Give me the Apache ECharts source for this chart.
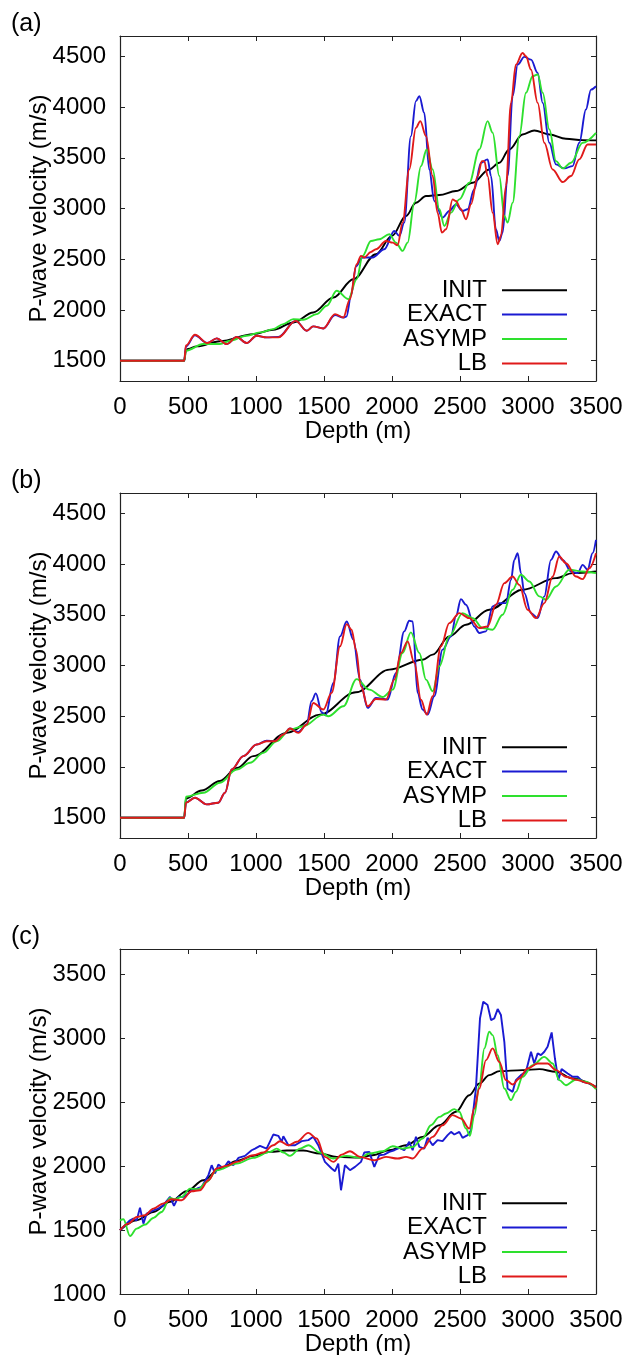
<!DOCTYPE html>
<html><head><meta charset="utf-8">
<script src="https://cdn.jsdelivr.net/npm/echarts@6/dist/echarts.min.js"></script>
<style>html,body{margin:0;padding:0;background:#fff}#c{width:629px;height:1355px}</style>
</head><body><div id="c"></div><script>
const seriesNames = ['INIT', 'EXACT', 'ASYMP', 'LB'];
const panelLabels = ['(a)', '(b)', '(c)'];
const xTicks = [0, 500, 1000, 1500, 2000, 2500, 3000, 3500];
const yTicksAB = [1500, 2000, 2500, 3000, 3500, 4000, 4500];
const yTicksC = [1000, 1500, 2000, 2500, 3000, 3500];
const xTitle = 'Depth (m)';
const yTitle = 'P-wave velocity (m/s)';

// ---- panel (a) ----
const aInit = [[0,1500],[472,1500],[485,1600],[500,1615],[564,1641],[735,1692],[980,1762],[1127,1805],[1275,1877],[1421,1975],[1569,2123],[1716,2303],[1882,2549],[2000,2730],[2103,2926],[2176,3057],[2250,3123],[2348,3133],[2470,3172],[2593,3254],[2715,3385],[2789,3451],[2862,3582],[2960,3730],[3046,3769],[3157,3730],[3279,3687],[3402,3674],[3500,3671]];
const aExact = [[0,1500],[472,1500],[485,1640],[551,1750],[642,1674],[711,1720],[784,1664],[858,1733],[931,1674],[1005,1746],[1078,1730],[1164,1735],[1292,1893],[1373,1795],[1421,1838],[1495,1818],[1581,1950],[1642,1926],[1665,1935],[1700,2150],[1735,2430],[1784,2517],[1857,2517],[1943,2598],[2017,2779],[2054,2730],[2090,2861],[2139,3713],[2176,4058],[2201,4107],[2237,3943],[2274,3385],[2311,3074],[2372,2910],[2421,2976],[2470,3041],[2519,2976],[2556,2992],[2605,3189],[2654,3451],[2703,3484],[2728,3320],[2764,2795],[2789,2680],[2813,2762],[2850,3320],[2887,4107],[2924,4418],[2973,4494],[3022,4467],[3071,4336],[3108,4041],[3157,3648],[3206,3435],[3267,3395],[3328,3418],[3377,3648],[3426,3976],[3463,4172],[3500,4205]];
const aAsymp = [[0,1500],[472,1500],[485,1600],[613,1664],[735,1664],[809,1697],[931,1746],[1029,1779],[1127,1811],[1201,1861],[1274,1910],[1348,1903],[1446,1959],[1520,2041],[1593,2189],[1679,2107],[1740,2303],[1784,2533],[1845,2680],[1906,2697],[1980,2746],[2029,2664],[2078,2582],[2115,2664],[2164,3057],[2213,3418],[2255,3582],[2299,3385],[2348,2992],[2385,2828],[2434,2959],[2495,3090],[2568,3254],[2642,3582],[2703,3861],[2740,3746],[2789,3320],[2826,2926],[2850,2861],[2887,3057],[2936,3713],[2985,4140],[3034,4304],[3071,4320],[3108,4140],[3157,3779],[3206,3467],[3255,3395],[3316,3451],[3402,3648],[3500,3746]];
const aLB = [[0,1500],[472,1500],[485,1650],[551,1756],[642,1674],[711,1720],[784,1664],[858,1733],[931,1674],[1005,1746],[1078,1730],[1164,1730],[1292,1893],[1373,1795],[1421,1838],[1495,1818],[1581,1959],[1642,1926],[1691,2107],[1740,2450],[1772,2533],[1796,2517],[1845,2572],[1882,2598],[1956,2680],[2005,2664],[2041,2638],[2078,2861],[2127,3385],[2176,3795],[2208,3861],[2250,3713],[2299,3320],[2335,2959],[2367,2762],[2397,2795],[2446,3090],[2470,3074],[2507,2992],[2544,2894],[2581,3041],[2630,3320],[2661,3467],[2679,3467],[2703,3320],[2740,2959],[2777,2648],[2801,2730],[2838,3221],[2875,4041],[2911,4418],[2960,4533],[2985,4500],[3022,4369],[3071,4041],[3120,3648],[3181,3385],[3255,3261],[3316,3320],[3377,3484],[3438,3631],[3500,3631]];

// ---- panel (b) ----
const bInit = [[0,1500],[472,1500],[485,1690],[600,1768],[735,1862],[860,1990],[980,2107],[1226,2336],[1470,2516],[1735,2736],[1980,2959],[2225,3057],[2299,3107],[2421,3287],[2544,3402],[2715,3549],[2960,3746],[3206,3861],[3328,3910],[3500,3926]];
const bExact = [[0,1500],[472,1500],[485,1650],[551,1697],[637,1631],[723,1648],[772,1746],[821,1975],[907,2107],[1005,2221],[1078,2260],[1140,2254],[1201,2320],[1250,2379],[1311,2345],[1373,2420],[1409,2650],[1440,2725],[1483,2540],[1512,2510],[1569,2828],[1618,3287],[1667,3434],[1716,3254],[1765,2861],[1821,2582],[1882,2680],[1968,2664],[2029,2926],[2090,3336],[2127,3441],[2152,3434],[2188,2730],[2225,2566],[2262,2516],[2311,2697],[2372,3156],[2434,3287],[2470,3484],[2507,3654],[2544,3598],[2605,3385],[2642,3320],[2691,3336],[2740,3582],[2789,3615],[2838,3615],[2875,3844],[2899,4041],[2924,4107],[2948,3910],[2973,3713],[3022,3516],[3071,3467],[3120,3681],[3169,4041],[3206,4123],[3255,4041],[3316,3926],[3365,3910],[3402,3992],[3438,3943],[3475,4107],[3500,4238]];
const bAsymp = [[0,1500],[472,1500],[485,1707],[613,1746],[735,1844],[858,1975],[956,2041],[1054,2139],[1152,2254],[1250,2369],[1348,2402],[1495,2516],[1532,2500],[1642,2598],[1740,2866],[1833,2762],[1931,2690],[2005,2762],[2078,3123],[2139,3326],[2201,3123],[2250,2861],[2299,2746],[2348,2992],[2421,3287],[2519,3516],[2593,3467],[2666,3369],[2740,3353],[2813,3500],[2887,3746],[2948,3894],[3010,3828],[3083,3681],[3132,3648],[3206,3779],[3304,3943],[3402,3926],[3500,3910]];
const bLB = [[0,1500],[472,1500],[485,1648],[551,1697],[637,1631],[723,1648],[772,1746],[821,1975],[907,2107],[1005,2221],[1078,2254],[1140,2254],[1201,2320],[1250,2379],[1311,2336],[1373,2418],[1421,2631],[1495,2566],[1556,2730],[1618,3189],[1667,3408],[1703,3353],[1735,3156],[1772,2795],[1821,2598],[1882,2670],[1956,2664],[2017,2861],[2066,3123],[2115,3238],[2164,3025],[2213,2664],[2255,2516],[2299,2697],[2360,3189],[2421,3418],[2495,3516],[2568,3467],[2642,3369],[2703,3385],[2764,3598],[2826,3812],[2887,3877],[2936,3795],[2997,3549],[3059,3467],[3120,3615],[3181,3877],[3230,4074],[3279,4008],[3353,3877],[3402,3851],[3451,3959],[3500,4107]];

// ---- panel (c) ----
const cInit = [[0,1499],[123,1577],[245,1642],[368,1721],[490,1804],[613,1890],[735,1982],[858,2042],[980,2081],[1103,2112],[1226,2123],[1348,2123],[1470,2099],[1593,2073],[1765,2068],[1857,2086],[1980,2125],[2103,2164],[2225,2230],[2348,2321],[2470,2426],[2568,2556],[2642,2647],[2715,2713],[2789,2744],[2960,2752],[3083,2760],[3206,2739],[3328,2687],[3500,2621]];
const cExact = [[0,1499],[37,1538],[74,1577],[98,1590],[123,1577],[147,1676],[172,1551],[196,1629],[245,1655],[282,1668],[319,1695],[368,1760],[397,1689],[429,1760],[466,1760],[502,1786],[527,1812],[564,1825],[600,1838],[650,1930],[674,2008],[699,1943],[723,2013],[760,1982],[797,2039],[833,2008],[870,2065],[919,2081],[968,2125],[993,2138],[1029,2159],[1078,2138],[1127,2248],[1164,2238],[1189,2191],[1201,2235],[1238,2164],[1287,2164],[1336,2196],[1385,2204],[1421,2230],[1458,2164],[1507,2034],[1556,1982],[1581,1961],[1605,2021],[1625,1812],[1654,2008],[1691,1969],[1728,1995],[1772,2034],[1796,2107],[1833,2112],[1870,1995],[1906,2086],[1943,2091],[1980,2112],[2017,2125],[2054,2143],[2090,2125],[2127,2191],[2152,2125],[2176,2230],[2201,2151],[2237,2138],[2262,2222],[2299,2164],[2335,2204],[2372,2196],[2409,2243],[2434,2269],[2458,2248],[2495,2269],[2519,2222],[2556,2243],[2581,2282],[2617,2608],[2647,3157],[2671,3287],[2703,3261],[2728,3144],[2752,3157],[2777,3230],[2801,3183],[2826,2974],[2850,2608],[2887,2582],[2911,2674],[2948,2713],[2985,2739],[3022,2896],[3046,2804],[3071,2883],[3095,2869],[3120,2896],[3144,2935],[3174,3047],[3198,2843],[3223,2674],[3247,2760],[3292,2726],[3328,2700],[3365,2700],[3402,2661],[3451,2648],[3500,2614]];
const cAsymp = [[0,1577],[25,1585],[74,1454],[123,1512],[184,1543],[245,1595],[306,1642],[368,1752],[404,1742],[453,1760],[515,1825],[576,1820],[637,1877],[711,1969],[858,2021],[980,2065],[1103,2112],[1152,2138],[1201,2107],[1250,2081],[1324,2138],[1385,2164],[1470,2107],[1569,2060],[1667,2081],[1765,2065],[1833,2099],[1931,2117],[2005,2156],[2078,2138],[2152,2151],[2225,2217],[2286,2321],[2348,2386],[2397,2413],[2458,2447],[2495,2426],[2544,2295],[2573,2238],[2605,2400],[2642,2634],[2679,2921],[2715,3052],[2740,3026],[2777,2869],[2826,2608],[2875,2517],[2911,2582],[2960,2700],[3034,2791],[3120,2856],[3181,2804],[3230,2674],[3279,2634],[3353,2679],[3426,2661],[3500,2603]];
const cLB = [[0,1499],[61,1551],[123,1603],[184,1616],[245,1668],[319,1708],[380,1742],[453,1734],[527,1804],[588,1812],[650,1890],[711,1982],[784,2003],[858,2034],[980,2086],[1054,2107],[1127,2164],[1176,2196],[1238,2164],[1299,2191],[1385,2261],[1446,2217],[1507,2073],[1569,2034],[1630,2091],[1691,2117],[1765,2073],[1870,2047],[1956,2073],[2041,2060],[2103,2073],[2152,2060],[2225,2138],[2299,2230],[2372,2321],[2446,2400],[2507,2374],[2568,2295],[2605,2452],[2642,2608],[2691,2830],[2740,2922],[2789,2817],[2838,2674],[2887,2640],[2936,2687],[2997,2765],[3071,2804],[3144,2804],[3206,2752],[3279,2700],[3365,2674],[3451,2648],[3500,2614]];

const panelData = [
  [aInit, aExact, aAsymp, aLB],
  [bInit, bExact, bAsymp, bLB],
  [cInit, cExact, cAsymp, cLB]
];
const panelYTicks = [yTicksAB, yTicksAB, yTicksC];
const panelYRange = [[1300, 4700], [1300, 4700], [1000, 3700]];

// ---- styling / layout ----
const colors = ['#000000', '#1a1ad2', '#2ee02e', '#e01a1a'];
const FONT = 'Liberation Sans, Arial, Helvetica, sans-serif';
const gridTops = [36, 493, 949];
const GRID_LEFT = 120, GRID_W = 476, GRID_H = 345;
const axisCol = '#222';
const plain = v => String(v);

const option = {
  animation: false,
  backgroundColor: '#fff',
  textStyle: { fontFamily: FONT },
  title: [], grid: [], xAxis: [], yAxis: [], legend: [], series: []
};

panelData.forEach((curves, p) => {
  const top = gridTops[p];
  option.grid.push({ left: GRID_LEFT, top: top, width: GRID_W, height: GRID_H, show: false, containLabel: false, outerBoundsMode: 'none' });
  option.title.push({ text: panelLabels[p], left: 11, top: top - 24, padding: 0,
    textStyle: { fontSize: 25, fontWeight: 'normal', color: '#000', fontFamily: FONT } });
  const tickStyle = { inside: true, length: 5, lineStyle: { color: axisCol, width: 1 } };
  const lineStyle = { show: true, onZero: false, lineStyle: { color: axisCol, width: 1.2 } };
  option.xAxis.push({ type: 'value', gridIndex: p, position: 'bottom', min: 0, max: 3500,
    axisLine: lineStyle, splitLine: { show: false },
    axisTick: Object.assign({ customValues: xTicks }, tickStyle),
    axisLabel: { customValues: xTicks, formatter: plain, margin: 14, fontSize: 24, color: '#000', fontFamily: FONT },
    name: xTitle, nameLocation: 'middle', nameGap: 38, nameMoveOverlap: false,
    nameTextStyle: { fontSize: 24, color: '#000', fontFamily: FONT } });
  option.xAxis.push({ type: 'value', gridIndex: p, position: 'top', min: 0, max: 3500,
    axisLine: lineStyle, splitLine: { show: false },
    axisTick: Object.assign({ customValues: xTicks }, tickStyle),
    axisLabel: { show: false } });
  const yr = panelYRange[p], yt = panelYTicks[p];
  option.yAxis.push({ type: 'value', gridIndex: p, position: 'left', min: yr[0], max: yr[1],
    axisLine: lineStyle, splitLine: { show: false },
    axisTick: Object.assign({ customValues: yt }, tickStyle),
    axisLabel: { customValues: yt, formatter: plain, margin: 14, fontSize: 24, color: '#000', fontFamily: FONT },
    name: yTitle, nameLocation: 'middle', nameGap: 69, nameMoveOverlap: false,
    nameTextStyle: { fontSize: 24, color: '#000', fontFamily: FONT } });
  option.yAxis.push({ type: 'value', gridIndex: p, position: 'right', min: yr[0], max: yr[1],
    axisLine: lineStyle, splitLine: { show: false },
    axisTick: Object.assign({ customValues: yt }, tickStyle),
    axisLabel: { show: false } });
  option.legend.push({ data: seriesNames, orient: 'vertical', align: 'right', right: 62, top: top + 242,
    padding: 0, itemGap: 0, itemWidth: 65, itemHeight: 2, icon: 'rect', selectedMode: false,
    textStyle: { fontSize: 24, color: '#000', fontFamily: FONT, lineHeight: 24.4, padding: [0, 10, 0, 0] } });
  curves.forEach((d, i) => {
    const jagged = (p === 2 && i === 1);
    option.series.push({ name: seriesNames[i], type: 'line', xAxisIndex: p * 2, yAxisIndex: p * 2,
      data: d, showSymbol: false, symbol: 'none', color: colors[i],
      smooth: jagged ? false : 0.35, smoothMonotone: 'x',
      lineStyle: { width: 1.9, color: colors[i] }, z: 2 + i });
  });
});

const chart = echarts.init(document.getElementById('c'), null, { renderer: 'canvas' });
chart.setOption(option);
</script></body></html>
